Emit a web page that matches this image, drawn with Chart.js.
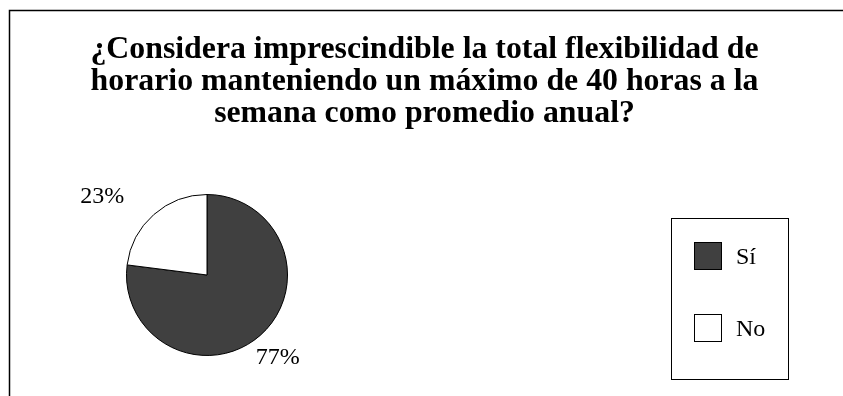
<!DOCTYPE html>
<html>
<head>
<meta charset="utf-8">
<script src="https://cdn.jsdelivr.net/npm/chart.js@4/dist/chart.umd.min.js"></script>
<style>
  html, body { margin: 0; padding: 0; background: #ffffff; overflow: hidden; }
  canvas { display: block; }
</style>
</head>
<body>
<canvas id="chart" width="843" height="396"></canvas>
<script>
// Survey question and answers
const titleLines = [
  '¿Considera imprescindible la total flexibilidad de',
  'horario manteniendo un máximo de 40 horas a la',
  'semana como promedio anual?'
];
const categories = ['Sí', 'No'];
const shares = [77, 23];
const sliceColors = ['#404040', '#ffffff'];

const SERIF = '"Liberation Serif", "Times New Roman", Times, serif';

// Frame lines and the three-line heading
const framePlugin = {
  id: 'frameAndTitle',
  beforeDraw(chart, args, opts) {
    const ctx = chart.ctx;
    ctx.save();
    ctx.strokeStyle = '#000000';
    ctx.lineWidth = 1.5;
    ctx.beginPath();
    ctx.moveTo(9.5, chart.height);
    ctx.lineTo(9.5, 10.5);
    ctx.lineTo(chart.width, 10.5);
    ctx.stroke();

    ctx.fillStyle = '#000000';
    ctx.font = 'bold 31.8px ' + SERIF;
    ctx.textAlign = 'center';
    ctx.textBaseline = 'alphabetic';
    opts.lines.forEach((line, i) => {
      ctx.fillText(line, opts.x, opts.baseline + i * opts.lineStep);
    });
    ctx.restore();
  }
};

// Percentage labels outside the slices and the boxed legend
const annotatePlugin = {
  id: 'annotate',
  afterDatasetsDraw(chart, args, opts) {
    const ctx = chart.ctx;
    const meta = chart.getDatasetMeta(0);
    const values = chart.data.datasets[0].data;
    const colors = chart.data.datasets[0].backgroundColor;
    ctx.save();
    ctx.fillStyle = '#000000';
    ctx.font = '24px ' + SERIF;
    ctx.textAlign = 'center';
    ctx.textBaseline = 'alphabetic';
    meta.data.forEach((arc, i) => {
      const p = arc.getProps(['x', 'y', 'startAngle', 'endAngle', 'outerRadius'], true);
      const mid = (p.startAngle + p.endAngle) / 2;
      const d = p.outerRadius * opts.labelDistance;
      const nudge = opts.nudges[i] || [0, 0];
      const cx = p.x + Math.cos(mid) * d + nudge[0];
      const cy = p.y + Math.sin(mid) * d + nudge[1];
      ctx.fillText(values[i] + '%', cx, cy + 8.5);
    });

    // legend frame
    const L = opts.legend;
    ctx.strokeStyle = '#000000';
    ctx.lineWidth = 1;
    ctx.strokeRect(L.left + 0.5, L.top + 0.5, L.width, L.height);
    ctx.textAlign = 'left';
    chart.data.labels.forEach((label, i) => {
      const yc = L.firstRow + i * L.rowStep;
      ctx.fillStyle = colors[i];
      ctx.fillRect(L.swatchX, yc - L.swatch / 2, L.swatch, L.swatch);
      ctx.strokeStyle = '#000000';
      ctx.strokeRect(L.swatchX + 0.5, yc - L.swatch / 2 + 0.5, L.swatch - 1, L.swatch - 1);
      ctx.fillStyle = '#000000';
      ctx.fillText(label, L.textX, yc + 8);
    });
    ctx.restore();
  }
};

new Chart(document.getElementById('chart'), {
  type: 'pie',
  data: {
    labels: categories,
    datasets: [{
      data: shares,
      backgroundColor: sliceColors,
      borderColor: '#000000',
      borderWidth: 1
    }]
  },
  options: {
    responsive: false,
    devicePixelRatio: 1,
    animation: false,
    events: [],
    rotation: 0,
    layout: {
      padding: { left: 126, right: 555, top: 194, bottom: 40 }
    },
    plugins: {
      legend: { display: false },
      title: { display: false },
      tooltip: { enabled: false },
      frameAndTitle: { lines: titleLines, x: 424.5, baseline: 57.5, lineStep: 32 },
      annotate: {
        labelDistance: 1.33,
        nudges: [[0, 0], [-34, 0]],
        legend: {
          left: 671, top: 218, width: 117, height: 161,
          swatchX: 694, swatch: 28, textX: 736,
          firstRow: 256, rowStep: 72
        }
      }
    }
  },
  plugins: [framePlugin, annotatePlugin]
});
</script>
</body>
</html>
